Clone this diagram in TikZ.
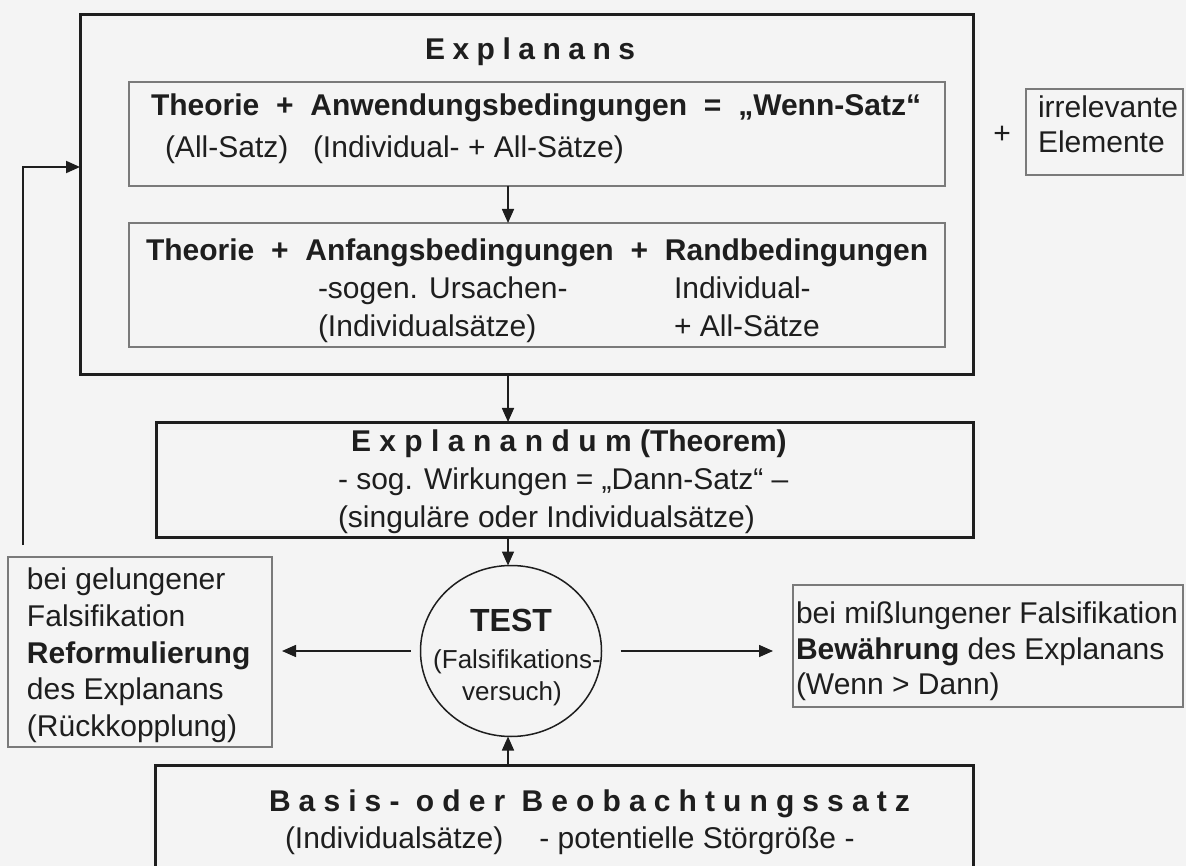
\documentclass[tikz,border=0pt]{standalone}
\usepackage{fontspec}
\setmainfont{Liberation Sans}
\newfontfamily\spaced[LetterSpace=25]{Liberation Sans}
\newfontfamily\spacedb[LetterSpace=28]{Liberation Sans}
\newfontfamily\spacedc[LetterSpace=27]{Liberation Sans}
\usetikzlibrary{arrows.meta,shapes.geometric}
\definecolor{bgc}{HTML}{F4F4F4}
\definecolor{ink}{HTML}{1E1E1E}
\definecolor{thin}{HTML}{7A7A7A}
\newcommand{\sepgap}{\hspace{0.56em}}
\begin{document}
\begin{tikzpicture}[x=1pt,y=-1pt,
  font=\fontsize{30}{36}\selectfont,
  tbox/.style={draw=ink, line width=3pt, rectangle, inner sep=0pt, outer sep=0pt},
  gbox/.style={draw=thin, line width=1.5pt, rectangle, inner sep=0pt, outer sep=0pt},
  txt/.style={inner sep=0pt, outer sep=0pt, text=ink, anchor=base west},
  arr/.style={draw=ink, line width=1.6pt, -{Triangle[length=14pt,width=12pt]}}]
\fill[bgc] (0,0) rectangle (1186,866);
\useasboundingbox (0,0) rectangle (1186,866);
% boxes
\node[tbox, minimum width=893pt, minimum height=360pt] (outer) at (526.5,195) {};
\node[gbox, minimum width=816pt, minimum height=104pt] (inner1) at (537,134) {};
\node[gbox, minimum width=816pt, minimum height=124pt] (inner2) at (537,285) {};
\node[tbox, minimum width=817pt, minimum height=115pt] (explan) at (564.5,479.5) {};
\node[rectangle, inner sep=0pt, outer sep=0pt, minimum width=818pt, minimum height=115pt] (basis) at (564,822.5) {};
\draw[ink, line width=3pt] (basis.south west) -- (basis.north west) -- (basis.north east) -- (basis.south east);
\node[draw=ink, line width=1.5pt, ellipse, inner sep=0pt, outer sep=0pt, minimum width=181pt, minimum height=171pt] (test) at (511,651) {};
\node[gbox, minimum width=264pt, minimum height=190pt] (leftbox) at (140,652) {};
\node[gbox, minimum width=390pt, minimum height=122pt] (rightbox) at (988,646) {};
\node[gbox, minimum width=157pt, minimum height=86pt] (irrbox) at (1104.5,132) {};
% texts
\node[txt] (tExplanans) at (425,60) {\spaced\bfseries Explanans};
\node[txt] (tI1a) at (151,116) {\bfseries Theorie\sepgap+\sepgap Anwendungsbedingungen\sepgap=\sepgap„Wenn-Satz“};
\node[txt] (tI1b) at (165,158) {(All-Satz)};
\node[txt] (tI1c) at (313,158) {(Individual- + All-Sätze)};
\node[txt] (tI2a) at (146,261) {\bfseries Theorie\sepgap+\sepgap Anfangsbedingungen\sepgap+\sepgap Randbedingungen};
\node[txt] (tI2b) at (318,299) {-sogen. Ursachen-};
\node[txt] (tI2c) at (674,299) {Individual-};
\node[txt] (tI2d) at (318,337) {(Individualsätze)};
\node[txt] (tI2e) at (674,337) {+ All-Sätze};
\node[txt] (tEa) at (351,451) {{\spacedb\bfseries Explanandum} {\bfseries (Theorem)}};
\node[txt] (tEb) at (338,489) {- sog. Wirkungen = „Dann-Satz“ –};
\node[txt] (tEc) at (338,527) {(singuläre oder Individualsätze)};
\node[txt, anchor=base] (tTa) at (511,631) {\fontsize{32}{36}\selectfont\bfseries TEST};
\node[txt, anchor=base] (tTb) at (517,668) {\fontsize{26}{30}\selectfont (Falsifikations-};
\node[txt, anchor=base] (tTc) at (512,700) {\fontsize{26}{30}\selectfont versuch)};
\node[txt] (tLa) at (27,589) {bei gelungener};
\node[txt] (tLb) at (27,626) {Falsifikation};
\node[txt] (tLc) at (27,663) {\bfseries Reformulierung};
\node[txt] (tLd) at (27,699) {des Explanans};
\node[txt] (tLe) at (27,736) {(Rückkopplung)};
\node[txt] (tRa) at (796,623) {bei mißlungener Falsifikation};
\node[txt] (tRb) at (796,659) {{\bfseries Bewährung} des Explanans};
\node[txt] (tRc) at (796,694) {(Wenn > Dann)};
\node[txt, anchor=base] (plus) at (1002,144) {+};
\node[txt] (tIa) at (1038,118) {irrelevante};
\node[txt] (tIb) at (1038,153) {Elemente};
\node[txt] (tBa) at (269,811) {\spacedc\bfseries Basis- oder Beobachtungssatz};
\node[txt] (tBb) at (285,848) {(Individualsätze)\hspace{1.2em}- potentielle Störgröße -};
% connectors
\coordinate (ax) at (508,0);
\coordinate (fby) at (0,167);
\coordinate (fbstart) at (23,545);
\draw[arr] (inner1.south -| ax) -- (inner2.north -| ax);
\draw[arr] (outer.south -| ax) -- (explan.north -| ax);
\draw[arr] (explan.south -| ax) -- (test.north -| ax);
\draw[arr] (basis.north -| ax) -- (test.south -| ax);
\draw[arr, shorten <=10pt, shorten >=10pt] (test.west) -- (test.west -| leftbox.east);
\draw[arr, shorten <=19pt, shorten >=20pt] (test.east) -- (test.east -| rightbox.west);
\draw[arr, line width=2pt] (fbstart) |- (outer.west |- fby);
\end{tikzpicture}
\end{document}
